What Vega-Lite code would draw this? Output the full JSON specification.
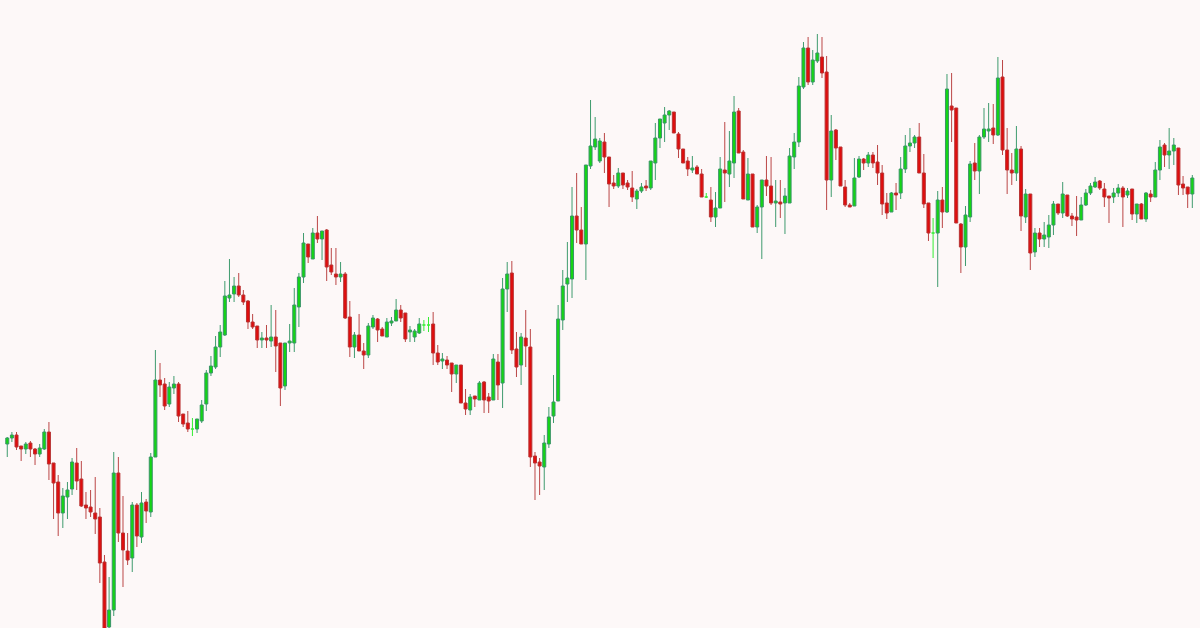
{"$schema":"https://vega.github.io/schema/vega-lite/v6.json","width":1200,"height":628,"autosize":{"type":"fit","contains":"padding"},"padding":0,"background":"#fdf8f8","config":{"view":{"stroke":null}},
"data":{"values":[
{"i":0,"o":184,"h":191,"l":171,"c":190},{"i":1,"o":190,"h":196,"l":186,"c":193},{"i":2,"o":193,"h":196,"l":178,"c":181},{"i":3,"o":182,"h":182,"l":167,"c":179},{"i":4,"o":179,"h":186,"l":174,"c":184},{"i":5,"o":185,"h":187,"l":171,"c":179},{"i":6,"o":179,"h":180,"l":163,"c":174},{"i":7,"o":174,"h":184,"l":171,"c":180},{"i":8,"o":179,"h":199,"l":178,"c":196},{"i":9,"o":196,"h":206,"l":148,"c":164},
{"i":10,"o":165,"h":165,"l":109,"c":145},{"i":11,"o":146,"h":153,"l":92,"c":115},{"i":12,"o":115,"h":140,"l":100,"c":132},{"i":13,"o":131,"h":146,"l":109,"c":138},{"i":14,"o":139,"h":170,"l":133,"c":166},{"i":15,"o":165,"h":180,"l":138,"c":147},{"i":16,"o":149,"h":167,"l":121,"c":122},{"i":17,"o":123,"h":136,"l":109,"c":120},{"i":18,"o":121,"h":138,"l":111,"c":116},{"i":19,"o":115,"h":151,"l":94,"c":109},
{"i":20,"o":111,"h":120,"l":45,"c":65},{"i":21,"o":66,"h":73,"l":-15,"c":-5},{"i":22,"o":1,"h":51,"l":-5,"c":18},{"i":23,"o":18,"h":176,"l":12,"c":155},{"i":24,"o":155,"h":171,"l":86,"c":95},{"i":25,"o":95,"h":132,"l":41,"c":78},{"i":26,"o":77,"h":95,"l":63,"c":68},{"i":27,"o":70,"h":126,"l":56,"c":123},{"i":28,"o":123,"h":125,"l":81,"c":92},{"i":29,"o":91,"h":136,"l":85,"c":125},
{"i":30,"o":126,"h":129,"l":105,"c":117},{"i":31,"o":116,"h":175,"l":111,"c":171},{"i":32,"o":171,"h":278,"l":171,"c":248},{"i":33,"o":248,"h":265,"l":231,"c":243},{"i":34,"o":244,"h":250,"l":218,"c":222},{"i":35,"o":224,"h":246,"l":221,"c":241},{"i":36,"o":240,"h":252,"l":234,"c":244},{"i":37,"o":244,"h":246,"l":206,"c":212},{"i":38,"o":214,"h":214,"l":201,"c":204},{"i":39,"o":205,"h":217,"l":196,"c":199},
{"i":40,"o":199,"h":210,"l":192,"c":199},{"i":41,"o":199,"h":209,"l":195,"c":209},{"i":42,"o":207,"h":228,"l":205,"c":223},{"i":43,"o":224,"h":258,"l":217,"c":255},{"i":44,"o":255,"h":272,"l":252,"c":262},{"i":45,"o":261,"h":292,"l":259,"c":281},{"i":46,"o":281,"h":303,"l":271,"c":296},{"i":47,"o":293,"h":347,"l":292,"c":332},{"i":48,"o":330,"h":369,"l":326,"c":333},{"i":49,"o":334,"h":351,"l":326,"c":342},
{"i":50,"o":342,"h":355,"l":331,"c":333},{"i":51,"o":333,"h":338,"l":323,"c":326},{"i":52,"o":327,"h":328,"l":299,"c":306},{"i":53,"o":306,"h":314,"l":299,"c":301},{"i":54,"o":302,"h":302,"l":280,"c":288},{"i":55,"o":288,"h":296,"l":280,"c":290},{"i":56,"o":290,"h":303,"l":280,"c":288},{"i":57,"o":287,"h":323,"l":281,"c":291},{"i":58,"o":291,"h":318,"l":256,"c":282},{"i":59,"o":285,"h":285,"l":222,"c":240},
{"i":60,"o":242,"h":285,"l":238,"c":285},{"i":61,"o":285,"h":304,"l":276,"c":287},{"i":62,"o":285,"h":340,"l":276,"c":323},{"i":63,"o":321,"h":355,"l":301,"c":351},{"i":64,"o":351,"h":395,"l":345,"c":385},{"i":65,"o":384,"h":384,"l":365,"c":371},{"i":66,"o":369,"h":400,"l":369,"c":395},{"i":67,"o":395,"h":412,"l":385,"c":389},{"i":68,"o":389,"h":397,"l":368,"c":397},{"i":69,"o":398,"h":399,"l":347,"c":361},
{"i":70,"o":363,"h":380,"l":353,"c":356},{"i":71,"o":354,"h":380,"l":343,"c":351},{"i":72,"o":351,"h":366,"l":346,"c":354},{"i":73,"o":354,"h":356,"l":309,"c":310},{"i":74,"o":311,"h":327,"l":271,"c":281},{"i":75,"o":281,"h":296,"l":270,"c":293},{"i":76,"o":293,"h":314,"l":277,"c":277},{"i":77,"o":277,"h":285,"l":259,"c":273},{"i":78,"o":273,"h":305,"l":270,"c":302},{"i":79,"o":301,"h":313,"l":299,"c":310},
{"i":80,"o":309,"h":310,"l":286,"c":298},{"i":81,"o":299,"h":301,"l":292,"c":292},{"i":82,"o":291,"h":310,"l":291,"c":306},{"i":83,"o":305,"h":311,"l":302,"c":307},{"i":84,"o":307,"h":329,"l":307,"c":318},{"i":85,"o":318,"h":323,"l":306,"c":310},{"i":86,"o":315,"h":315,"l":286,"c":289},{"i":87,"o":296,"h":302,"l":286,"c":298},{"i":88,"o":291,"h":299,"l":286,"c":297},{"i":89,"o":295,"h":310,"l":294,"c":304},
{"i":90,"o":303,"h":308,"l":297,"c":303},{"i":91,"o":303,"h":311,"l":296,"c":303},{"i":92,"o":304,"h":316,"l":263,"c":275},{"i":93,"o":275,"h":283,"l":263,"c":266},{"i":94,"o":267,"h":275,"l":259,"c":269},{"i":95,"o":268,"h":272,"l":259,"c":263},{"i":96,"o":265,"h":265,"l":236,"c":254},{"i":97,"o":254,"h":263,"l":245,"c":263},{"i":98,"o":263,"h":263,"l":225,"c":225},{"i":99,"o":225,"h":239,"l":213,"c":219},
{"i":100,"o":218,"h":234,"l":213,"c":231},{"i":101,"o":232,"h":232,"l":221,"c":229},{"i":102,"o":228,"h":247,"l":228,"c":245},{"i":103,"o":246,"h":247,"l":215,"c":228},{"i":104,"o":231,"h":235,"l":215,"c":227},{"i":105,"o":228,"h":274,"l":228,"c":269},{"i":106,"o":266,"h":274,"l":228,"c":243},{"i":107,"o":245,"h":350,"l":220,"c":339},{"i":108,"o":339,"h":366,"l":316,"c":354},{"i":109,"o":355,"h":367,"l":274,"c":278},
{"i":110,"o":279,"h":296,"l":251,"c":261},{"i":111,"o":263,"h":295,"l":243,"c":291},{"i":112,"o":290,"h":318,"l":261,"c":282},{"i":113,"o":281,"h":299,"l":161,"c":171},{"i":114,"o":172,"h":176,"l":128,"c":165},{"i":115,"o":166,"h":170,"l":133,"c":162},{"i":116,"o":161,"h":193,"l":138,"c":185},{"i":117,"o":184,"h":221,"l":180,"c":211},{"i":118,"o":212,"h":253,"l":205,"c":226},{"i":119,"o":227,"h":323,"l":227,"c":309},
{"i":120,"o":308,"h":358,"l":298,"c":342},{"i":121,"o":344,"h":386,"l":326,"c":350},{"i":122,"o":349,"h":441,"l":330,"c":412},{"i":123,"o":412,"h":455,"l":385,"c":398},{"i":124,"o":398,"h":421,"l":384,"c":384},{"i":125,"o":384,"h":463,"l":348,"c":463},{"i":126,"o":462,"h":528,"l":459,"c":482},{"i":127,"o":481,"h":511,"l":478,"c":489},{"i":128,"o":467,"h":490,"l":465,"c":487},{"i":129,"o":486,"h":495,"l":455,"c":471},
{"i":130,"o":471,"h":471,"l":421,"c":444},{"i":131,"o":445,"h":453,"l":439,"c":442},{"i":132,"o":442,"h":460,"l":440,"c":455},{"i":133,"o":455,"h":455,"l":439,"c":443},{"i":134,"o":445,"h":448,"l":438,"c":441},{"i":135,"o":440,"h":457,"l":426,"c":431},{"i":136,"o":429,"h":439,"l":419,"c":437},{"i":137,"o":437,"h":445,"l":435,"c":441},{"i":138,"o":442,"h":448,"l":437,"c":440},{"i":139,"o":440,"h":467,"l":438,"c":467},
{"i":140,"o":465,"h":505,"l":448,"c":490},{"i":141,"o":490,"h":509,"l":480,"c":509},{"i":142,"o":505,"h":521,"l":486,"c":513},{"i":143,"o":513,"h":518,"l":498,"c":517},{"i":144,"o":516,"h":516,"l":495,"c":495},{"i":145,"o":494,"h":496,"l":470,"c":479},{"i":146,"o":479,"h":479,"l":465,"c":465},{"i":147,"o":467,"h":471,"l":452,"c":459},{"i":148,"o":458,"h":472,"l":455,"c":460},{"i":149,"o":461,"h":463,"l":454,"c":454},
{"i":150,"o":454,"h":459,"l":431,"c":431},{"i":151,"o":431,"h":435,"l":430,"c":431},{"i":152,"o":428,"h":441,"l":406,"c":411},{"i":153,"o":411,"h":436,"l":401,"c":420},{"i":154,"o":420,"h":471,"l":420,"c":459},{"i":155,"o":458,"h":506,"l":426,"c":455},{"i":156,"o":454,"h":497,"l":441,"c":467},{"i":157,"o":465,"h":532,"l":450,"c":516},{"i":158,"o":517,"h":520,"l":475,"c":475},{"i":159,"o":476,"h":478,"l":429,"c":429},
{"i":160,"o":428,"h":470,"l":428,"c":454},{"i":161,"o":454,"h":454,"l":401,"c":401},{"i":162,"o":401,"h":423,"l":395,"c":421},{"i":163,"o":421,"h":448,"l":369,"c":448},{"i":164,"o":448,"h":472,"l":432,"c":442},{"i":165,"o":442,"h":471,"l":423,"c":425},{"i":166,"o":425,"h":448,"l":401,"c":427},{"i":167,"o":426,"h":448,"l":410,"c":424},{"i":168,"o":425,"h":440,"l":394,"c":432},{"i":169,"o":425,"h":480,"l":425,"c":472},
{"i":170,"o":471,"h":495,"l":459,"c":486},{"i":171,"o":486,"h":551,"l":481,"c":542},{"i":172,"o":541,"h":586,"l":539,"c":580},{"i":173,"o":580,"h":591,"l":543,"c":546},{"i":174,"o":546,"h":578,"l":543,"c":568},{"i":175,"o":567,"h":594,"l":565,"c":575},{"i":176,"o":571,"h":591,"l":550,"c":555},{"i":177,"o":556,"h":572,"l":418,"c":448},{"i":178,"o":448,"h":513,"l":431,"c":497},{"i":179,"o":498,"h":499,"l":468,"c":480},
{"i":180,"o":481,"h":481,"l":442,"c":442},{"i":181,"o":441,"h":448,"l":421,"c":423},{"i":182,"o":423,"h":425,"l":421,"c":421},{"i":183,"o":422,"h":470,"l":422,"c":450},{"i":184,"o":451,"h":472,"l":450,"c":469},{"i":185,"o":469,"h":470,"l":458,"c":465},{"i":186,"o":465,"h":476,"l":461,"c":473},{"i":187,"o":473,"h":476,"l":460,"c":465},{"i":188,"o":466,"h":483,"l":443,"c":455},{"i":189,"o":455,"h":463,"l":413,"c":424},
{"i":190,"o":425,"h":435,"l":409,"c":415},{"i":191,"o":416,"h":436,"l":416,"c":435},{"i":192,"o":435,"h":445,"l":418,"c":433},{"i":193,"o":435,"h":471,"l":429,"c":459},{"i":194,"o":459,"h":493,"l":455,"c":482},{"i":195,"o":482,"h":500,"l":476,"c":485},{"i":196,"o":485,"h":493,"l":480,"c":491},{"i":197,"o":491,"h":505,"l":455,"c":455},{"i":198,"o":455,"h":474,"l":420,"c":424},{"i":199,"o":425,"h":425,"l":387,"c":395},
{"i":200,"o":395,"h":410,"l":370,"c":395},{"i":201,"o":395,"h":437,"l":341,"c":428},{"i":202,"o":428,"h":441,"l":400,"c":416},{"i":203,"o":416,"h":554,"l":415,"c":539},{"i":204,"o":522,"h":555,"l":486,"c":518},{"i":205,"o":520,"h":520,"l":405,"c":405},{"i":206,"o":404,"h":405,"l":355,"c":381},{"i":207,"o":381,"h":422,"l":362,"c":413},{"i":208,"o":411,"h":467,"l":406,"c":464},{"i":209,"o":465,"h":485,"l":448,"c":457},
{"i":210,"o":457,"h":493,"l":434,"c":491},{"i":211,"o":491,"h":520,"l":489,"c":499},{"i":212,"o":497,"h":525,"l":486,"c":499},{"i":213,"o":500,"h":524,"l":484,"c":493},{"i":214,"o":493,"h":571,"l":492,"c":550},{"i":215,"o":551,"h":568,"l":473,"c":478},{"i":216,"o":478,"h":500,"l":434,"c":458},{"i":217,"o":458,"h":475,"l":443,"c":455},{"i":218,"o":455,"h":502,"l":447,"c":479},{"i":219,"o":479,"h":482,"l":397,"c":412},
{"i":220,"o":411,"h":439,"l":405,"c":434},{"i":221,"o":434,"h":434,"l":358,"c":375},{"i":222,"o":376,"h":400,"l":371,"c":395},{"i":223,"o":395,"h":400,"l":381,"c":389},{"i":224,"o":389,"h":406,"l":381,"c":393},{"i":225,"o":391,"h":413,"l":380,"c":403},{"i":226,"o":403,"h":427,"l":393,"c":424},{"i":227,"o":424,"h":424,"l":413,"c":415},{"i":228,"o":415,"h":446,"l":410,"c":434},{"i":229,"o":433,"h":433,"l":411,"c":412},
{"i":230,"o":412,"h":415,"l":402,"c":409},{"i":231,"o":411,"h":432,"l":392,"c":408},{"i":232,"o":408,"h":431,"l":408,"c":423},{"i":233,"o":423,"h":439,"l":422,"c":435},{"i":234,"o":435,"h":445,"l":433,"c":442},{"i":235,"o":441,"h":451,"l":440,"c":446},{"i":236,"o":447,"h":448,"l":438,"c":440},{"i":237,"o":439,"h":445,"l":421,"c":431},{"i":238,"o":432,"h":432,"l":405,"c":430},{"i":239,"o":431,"h":440,"l":425,"c":435},
{"i":240,"o":435,"h":444,"l":431,"c":440},{"i":241,"o":440,"h":442,"l":401,"c":431},{"i":242,"o":433,"h":440,"l":430,"c":437},{"i":243,"o":439,"h":439,"l":408,"c":414},{"i":244,"o":414,"h":424,"l":405,"c":424},{"i":245,"o":424,"h":425,"l":409,"c":409},{"i":246,"o":409,"h":436,"l":406,"c":435},{"i":247,"o":434,"h":438,"l":426,"c":431},{"i":248,"o":431,"h":466,"l":431,"c":458},{"i":249,"o":458,"h":488,"l":448,"c":481},
{"i":250,"o":483,"h":485,"l":461,"c":473},{"i":251,"o":473,"h":500,"l":459,"c":477},{"i":252,"o":477,"h":490,"l":463,"c":483},{"i":253,"o":480,"h":480,"l":433,"c":443},{"i":254,"o":444,"h":452,"l":433,"c":440},{"i":255,"o":441,"h":441,"l":420,"c":434},{"i":256,"o":434,"h":453,"l":420,"c":450}
]},
"encoding":{"x":{"field":"i","type":"quantitative","scale":{"domain":[-0.49,256.58],"nice":false,"zero":false},"axis":null}},
"layer":[
{"mark":{"type":"rule","strokeWidth":1,"clip":true},
 "encoding":{"y":{"field":"l","type":"quantitative","scale":{"domain":[0,628],"nice":false,"zero":false},"axis":null},"y2":{"field":"h"},
 "color":{"condition":[{"test":"datum.c > datum.o","value":"#3f9b6e"},{"test":"datum.c < datum.o","value":"#bb4646"}],"value":"#33ee33"}}},
{"mark":{"type":"bar","size":3,"strokeWidth":1,"clip":true},
 "encoding":{"y":{"field":"o","type":"quantitative","scale":{"domain":[0,628],"nice":false,"zero":false},"axis":null},"y2":{"field":"c"},
 "fill":{"condition":[{"test":"datum.c > datum.o","value":"#14d614"},{"test":"datum.c < datum.o","value":"#e00d0d"}],"value":"#33ee33"},
 "stroke":{"condition":[{"test":"datum.c > datum.o","value":"#3a9468"},{"test":"datum.c < datum.o","value":"#b83434"}],"value":"#33ee33"}}}
]}
